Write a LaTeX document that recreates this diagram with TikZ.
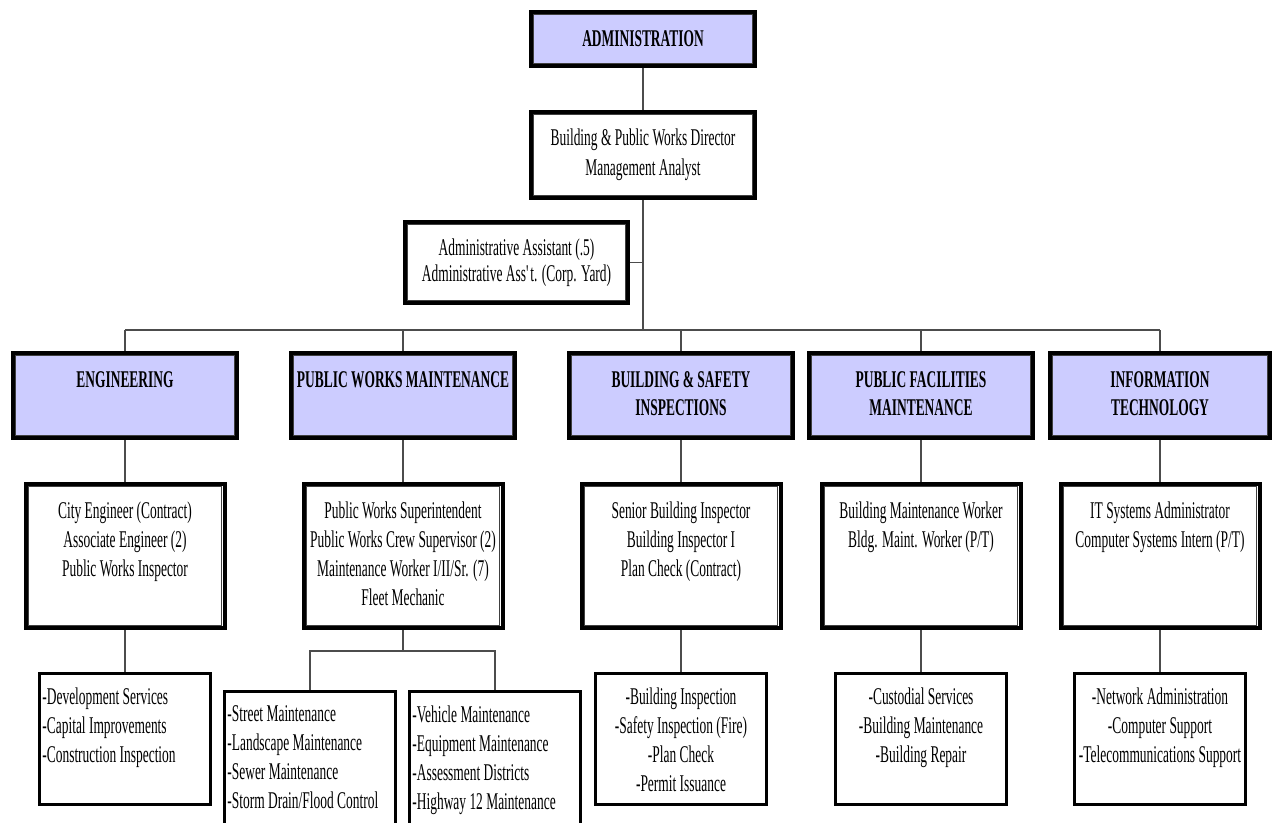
\documentclass[tikz,border=0pt]{standalone}
\usepackage{fontspec}
\setmainfont[FakeStretch=0.56]{Liberation Serif}
\usetikzlibrary{positioning}
\definecolor{lav}{RGB}{204,204,255}
\tikzset{
  dbl/.style   ={rectangle, draw=black, line width=2pt, fill=white, inner sep=0pt,
                 align=center, font=\fontsize{12}{15}\selectfont},
  hdr/.style   ={dbl, fill=lav, minimum width=112pt, minimum height=42.5pt},
  staff/.style ={dbl, minimum width=99.5pt, minimum height=72pt},
  duties/.style={rectangle, draw=black, line width=1.5pt, fill=white, inner sep=0pt,
                 minimum width=85.5pt, minimum height=65.5pt},
  txt/.style   ={inner sep=0pt, align=center, font=\fontsize{12}{14.5}\selectfont},
  htxt/.style  ={txt, font=\fontsize{12}{14}\selectfont\bfseries},
  ltxt/.style  ={txt, align=left},
  inln/.style  ={draw=black!75, line width=0.55pt},
  ln/.style    ={draw=black!70, line width=0.6pt},
}
\begin{document}
\begin{tikzpicture}[x=0.5pt, y=-0.5pt]
\useasboundingbox (0,0) rectangle (1272,823);
\clip (0,0) rectangle (1272,823);
% head of the department
\node[dbl, fill=lav, minimum width=112pt, minimum height=27pt,
      font=\fontsize{12}{14}\selectfont\bfseries] (adm) at (643,39) {ADMINISTRATION};
\node[dbl, minimum width=112pt, minimum height=43pt] (dir) at (643,155)
  {Building \& Public Works Director\\Management Analyst};
\node[dbl, minimum width=111.5pt, minimum height=40.5pt, font=\fontsize{12}{13}\selectfont]
  (asst) at (516.5,262.5) {Administrative Assistant (.5)\\Administrative Ass\textquotesingle t. (Corp. Yard)};
\coordinate (bus) at (643,330);
\coordinate (split) at (403,651);
% divisions
\node[hdr] (eng) at (125,395.5) {};
\node[hdr] (pwm) at (403,395.5) {};
\node[hdr] (bsi) at (681,395.5) {};
\node[hdr] (pfm) at (921,395.5) {};
\node[hdr, minimum width=110pt] (ite) at (1160,395.5) {};
% staff
\node[staff] (eng2) at (125,556) {};
\node[staff] (pwm2) at (403,556) {};
\node[staff] (bsi2) at (681,556) {};
\node[staff] (pfm2) at (921,556) {};
\node[staff] (ite2) at (1160,556) {};
% duties
\node[duties] (eng3) at (125,739) {};
\node[duties, minimum height=75.25pt] (pwm3a) at (310,766.75) {};
\node[duties, minimum height=75.25pt] (pwm3b) at (495,766.75) {};
\node[duties] (bsi3) at (681,739) {};
\node[duties] (pfm3) at (921,739) {};
\node[duties] (ite3) at (1160,739) {};
\foreach \n in {adm,dir,asst,eng,pwm,bsi,pfm,ite,eng2,pwm2,bsi2,pfm2,ite2}
  \draw[inln] ([shift={(2.3pt,-2.3pt)}]\n.north west) rectangle ([shift={(-2.3pt,2.3pt)}]\n.south east);
% texts
\node[htxt, below=10pt of eng.north] (engt) {ENGINEERING};
\node[htxt, below=10pt of pwm.north] (pwmt) {PUBLIC WORKS MAINTENANCE};
\node[htxt, below=10pt of bsi.north] (bsit) {BUILDING \& SAFETY\\INSPECTIONS};
\node[htxt, below=10pt of pfm.north] (pfmt) {PUBLIC FACILITIES\\MAINTENANCE};
\node[htxt, below=10pt of ite.north] (itet) {INFORMATION\\TECHNOLOGY};
\node[txt, below=9.8pt of eng2.north] (eng2t)
  {City Engineer (Contract)\\Associate Engineer (2)\\Public Works Inspector};
\node[txt, below=9.8pt of pwm2.north] (pwm2t)
  {Public Works Superintendent\\Public Works Crew Supervisor (2)\\Maintenance Worker I/II/Sr. (7)\\Fleet Mechanic};
\node[txt, below=9.8pt of bsi2.north] (bsi2t)
  {Senior Building Inspector\\Building Inspector I\\Plan Check (Contract)};
\node[txt, below=9.8pt of pfm2.north] (pfm2t)
  {Building Maintenance Worker\\Bldg. Maint. Worker (P/T)};
\node[txt, below=9.8pt of ite2.north] (ite2t)
  {IT Systems Administrator\\Computer Systems Intern (P/T)};
\node[ltxt, below right=7.5pt and 2pt of eng3.north west] (eng3t)
  {-Development Services\\-Capital Improvements\\-Construction Inspection};
\node[ltxt, below right=7.5pt and 2pt of pwm3a.north west] (pwm3at)
  {-Street Maintenance\\-Landscape Maintenance\\-Sewer Maintenance\\-Storm Drain/Flood Control};
\node[ltxt, below right=7.5pt and 2pt of pwm3b.north west] (pwm3bt)
  {-Vehicle Maintenance\\-Equipment Maintenance\\-Assessment Districts\\-Highway 12 Maintenance};
\node[txt, below=7.5pt of bsi3.north] (bsi3t)
  {-Building Inspection\\-Safety Inspection (Fire)\\-Plan Check\\-Permit Issuance};
\node[txt, below=7.5pt of pfm3.north] (pfm3t)
  {-Custodial Services\\-Building Maintenance\\-Building Repair};
\node[txt, below=7.5pt of ite3.north] (ite3t)
  {-Network Administration\\-Computer Support\\-Telecommunications Support};
% connectors
\draw[ln] (adm) -- (dir);
\draw[ln] (dir) -- (bus);
\draw[ln] (asst) -- (asst -| bus);
\draw[ln] (eng |- bus) -- (ite |- bus);
\foreach \n in {eng,pwm,bsi,pfm,ite} {
  \draw[ln] (\n |- bus) -- (\n);
  \draw[ln] (\n) -- (\n2);
}
\foreach \n in {eng,bsi,pfm,ite}
  \draw[ln] (\n2) -- (\n3);
\draw[ln] (pwm2) -- (split);
\draw[ln] (pwm3a) |- (split) -| (pwm3b);
\end{tikzpicture}
\end{document}
